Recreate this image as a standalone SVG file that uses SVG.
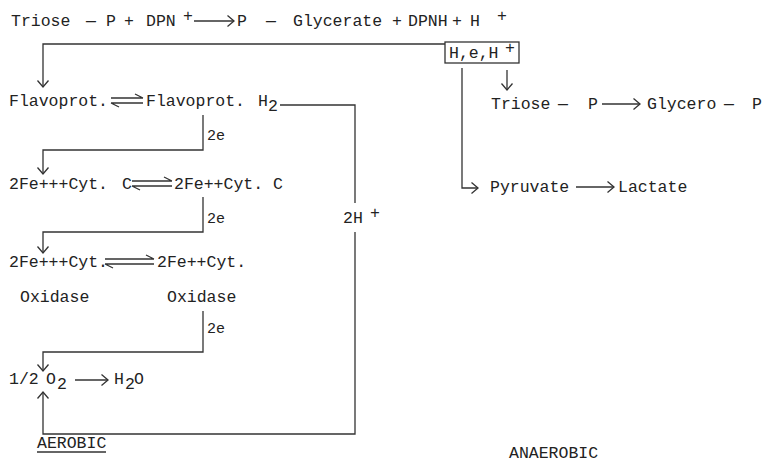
<svg xmlns="http://www.w3.org/2000/svg" width="765" height="463" viewBox="0 0 765 463">
<style>
.t{font-family:"Liberation Mono","DejaVu Sans Mono",monospace;font-size:16.5px;fill:#222}
.s{font-size:15px}
.c{stroke:#333;stroke-width:1.3;fill:none}
</style>
<defs>
<marker id="ah" markerUnits="userSpaceOnUse" viewBox="0 0 16 16" markerWidth="16" markerHeight="16" refX="8" refY="8" orient="auto">
<path d="M1.5,2.5 L8,8 L1.5,13.5" fill="none" stroke="#333" stroke-width="1.3"/>
</marker>
</defs>
<rect width="765" height="463" fill="#fff"/>

<g id="connectors" class="c">
<path d="M194,21 H234" marker-end="url(#ah)"/>
<path d="M445,44 H43 V87" marker-end="url(#ah)"/>
<path d="M462,68 V188 H478" marker-end="url(#ah)"/>
<path d="M507,70 V90" marker-end="url(#ah)"/>
<path d="M602,104 H640" marker-end="url(#ah)"/>
<path d="M576,187 H614" marker-end="url(#ah)"/>
<path d="M111,98 H143 M143,98 L135,94 M111,103 H143 M111,103 L119,107"/>
<path d="M132,181 H172 M172,181 L164,177 M132,186 H172 M132,186 L140,190"/>
<path d="M105,259 H154 M154,259 L146,255 M105,264 H154 M105,264 L113,268"/>
<path d="M203,115 V150 H43 V174" marker-end="url(#ah)"/>
<path d="M203,197 V232 H43 V253" marker-end="url(#ah)"/>
<path d="M203,311 V352 H43 V371" marker-end="url(#ah)"/>
<path d="M75,380 H108" marker-end="url(#ah)"/>
<path d="M280,105 H355 V203"/>
<path d="M355,232 V434 H43 V392" marker-end="url(#ah)"/>
</g>

<g id="glyceraldehyde-reaction" class="t">
<text x="11" y="26">Triose</text>
<text x="86" y="26">—</text>
<text x="106" y="26">P</text>
<text x="124" y="26">+</text>
<text x="146" y="26">DPN</text>
<text x="183" y="21">+</text>
<text x="237" y="26">P</text>
<text x="266" y="26">—</text>
<text x="293" y="26">Glycerate</text>
<text x="392" y="26">+</text>
<text x="408" y="26">DPNH</text>
<text x="452" y="26">+</text>
<text x="470" y="26">H</text>
<text x="497" y="21">+</text>
</g>

<g id="box-HeH">
<rect x="445" y="42" width="74" height="21" class="c"/>
<text class="t" x="449" y="58">H,e,H</text>
<text class="t" x="505" y="53">+</text>
</g>

<g id="triose-glycero" class="t">
<text x="491" y="109">Triose</text>
<text x="558" y="109">—</text>
<text x="588" y="109">P</text>
<text x="647" y="109">Glycero</text>
<text x="724" y="109">—</text>
<text x="752" y="109">P</text>
</g>

<g id="pyruvate-lactate" class="t">
<text x="490" y="192">Pyruvate</text>
<text x="618" y="192">Lactate</text>
</g>

<g id="flavoprot" class="t">
<text x="9" y="106">Flavoprot.</text>
</g>
<g id="flavoprot-h2" class="t">
<text x="146" y="106">Flavoprot.</text>
<text x="258" y="106">H</text>
<text x="268" y="111">2</text>
</g>

<g id="cyt-c-ox" class="t">
<text x="9" y="189">2Fe+++Cyt.</text>
<text x="122" y="189">C</text>
</g>
<g id="cyt-c-red" class="t">
<text x="174" y="189">2Fe++Cyt. C</text>
</g>

<g id="cyt-ox-ox" class="t">
<text x="9" y="267">2Fe+++Cyt.</text>
<text x="20" y="302">Oxidase</text>
</g>
<g id="cyt-ox-red" class="t">
<text x="157" y="267">2Fe++Cyt.</text>
<text x="167" y="302">Oxidase</text>
</g>

<g id="labels-2e" class="t s">
<text x="207" y="140">2e</text>
<text x="207" y="223">2e</text>
<text x="207" y="333">2e</text>
</g>

<g id="label-2H" class="t">
<text x="343" y="223">2H</text>
<text x="370" y="218">+</text>
</g>

<g id="oxygen-water" class="t">
<text x="9" y="384">1/2</text>
<text x="46" y="384">O</text>
<text x="57" y="389">2</text>
<text x="114" y="384">H</text>
<text x="125" y="389">2</text>
<text x="134" y="384">O</text>
</g>

<g id="aerobic">
<text class="t" x="37" y="448">AEROBIC</text>
<path class="c" d="M37,452 H106"/>
</g>
<g id="anaerobic">
<text class="t" x="509" y="458">ANAEROBIC</text>
</g>
</svg>
